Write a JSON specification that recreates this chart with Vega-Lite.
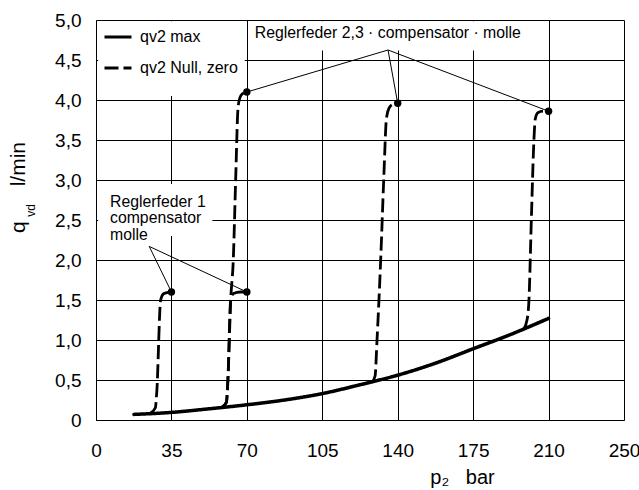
{
  "$schema": "https://vega.github.io/schema/vega-lite/v6.json",
  "width": 528,
  "height": 400,
  "autosize": {"type": "none"},
  "padding": {"left": 96, "top": 20, "right": 15, "bottom": 70},
  "background": "white",
  "config": {"font": "Liberation Sans", "view": {"stroke": null}},
  "datasets": {
    "curves": [
      {"series": "qv2 max", "curve": "max", "p": 17.6, "q": 0.07},
      {"series": "qv2 max", "curve": "max", "p": 35, "q": 0.095},
      {"series": "qv2 max", "curve": "max", "p": 52.5, "q": 0.14},
      {"series": "qv2 max", "curve": "max", "p": 70, "q": 0.19},
      {"series": "qv2 max", "curve": "max", "p": 87.5, "q": 0.25},
      {"series": "qv2 max", "curve": "max", "p": 105, "q": 0.33},
      {"series": "qv2 max", "curve": "max", "p": 122.5, "q": 0.44},
      {"series": "qv2 max", "curve": "max", "p": 140, "q": 0.56},
      {"series": "qv2 max", "curve": "max", "p": 157.5, "q": 0.71},
      {"series": "qv2 max", "curve": "max", "p": 175, "q": 0.89},
      {"series": "qv2 max", "curve": "max", "p": 192.5, "q": 1.07},
      {"series": "qv2 max", "curve": "max", "p": 210, "q": 1.27},
      {"series": "qv2 Null, zero", "curve": "c1", "p": 25.0, "q": 0.08},
      {"series": "qv2 Null, zero", "curve": "c1", "p": 27.5, "q": 0.15},
      {"series": "qv2 Null, zero", "curve": "c1", "p": 28.2, "q": 0.35},
      {"series": "qv2 Null, zero", "curve": "c1", "p": 30.0, "q": 1.5},
      {"series": "qv2 Null, zero", "curve": "c1", "p": 31.5, "q": 1.58},
      {"series": "qv2 Null, zero", "curve": "c1", "p": 35, "q": 1.6},
      {"series": "qv2 Null, zero", "curve": "c2", "p": 58.5, "q": 0.16},
      {"series": "qv2 Null, zero", "curve": "c2", "p": 60.5, "q": 0.22},
      {"series": "qv2 Null, zero", "curve": "c2", "p": 61.2, "q": 0.5},
      {"series": "qv2 Null, zero", "curve": "c2", "p": 62.5, "q": 1.5},
      {"series": "qv2 Null, zero", "curve": "c2", "p": 63.8, "q": 1.58},
      {"series": "qv2 Null, zero", "curve": "c2", "p": 67, "q": 1.6},
      {"series": "qv2 Null, zero", "curve": "c2", "p": 70, "q": 1.6},
      {"series": "qv2 Null, zero", "curve": "c3", "p": 58.5, "q": 0.16},
      {"series": "qv2 Null, zero", "curve": "c3", "p": 60.5, "q": 0.22},
      {"series": "qv2 Null, zero", "curve": "c3", "p": 61.2, "q": 0.5},
      {"series": "qv2 Null, zero", "curve": "c3", "p": 62.5, "q": 1.5},
      {"series": "qv2 Null, zero", "curve": "c3", "p": 63.7, "q": 2.0},
      {"series": "qv2 Null, zero", "curve": "c3", "p": 64.8, "q": 3.0},
      {"series": "qv2 Null, zero", "curve": "c3", "p": 65.9, "q": 3.9},
      {"series": "qv2 Null, zero", "curve": "c3", "p": 66.8, "q": 4.03},
      {"series": "qv2 Null, zero", "curve": "c3", "p": 68, "q": 4.08},
      {"series": "qv2 Null, zero", "curve": "c3", "p": 70, "q": 4.1},
      {"series": "qv2 Null, zero", "curve": "c4", "p": 128, "q": 0.47},
      {"series": "qv2 Null, zero", "curve": "c4", "p": 129.5, "q": 0.55},
      {"series": "qv2 Null, zero", "curve": "c4", "p": 130.4, "q": 1.0},
      {"series": "qv2 Null, zero", "curve": "c4", "p": 132.1, "q": 2.0},
      {"series": "qv2 Null, zero", "curve": "c4", "p": 133.5, "q": 3.0},
      {"series": "qv2 Null, zero", "curve": "c4", "p": 134.8, "q": 3.78},
      {"series": "qv2 Null, zero", "curve": "c4", "p": 136, "q": 3.9},
      {"series": "qv2 Null, zero", "curve": "c4", "p": 138, "q": 3.95},
      {"series": "qv2 Null, zero", "curve": "c4", "p": 140, "q": 3.96},
      {"series": "qv2 Null, zero", "curve": "c5", "p": 198.5, "q": 1.14},
      {"series": "qv2 Null, zero", "curve": "c5", "p": 200, "q": 1.25},
      {"series": "qv2 Null, zero", "curve": "c5", "p": 200.9, "q": 1.5},
      {"series": "qv2 Null, zero", "curve": "c5", "p": 202, "q": 2.5},
      {"series": "qv2 Null, zero", "curve": "c5", "p": 203.2, "q": 3.5},
      {"series": "qv2 Null, zero", "curve": "c5", "p": 203.8, "q": 3.76},
      {"series": "qv2 Null, zero", "curve": "c5", "p": 205, "q": 3.84},
      {"series": "qv2 Null, zero", "curve": "c5", "p": 207.5, "q": 3.86},
      {"series": "qv2 Null, zero", "curve": "c5", "p": 210, "q": 3.86}
    ],
    "dots": [
      {"p": 35, "q": 1.6},
      {"p": 70, "q": 1.6},
      {"p": 70, "q": 4.1},
      {"p": 140, "q": 3.96},
      {"p": 210, "q": 3.86}
    ],
    "leaders": [
      {"p": 24.7, "q": 2.17, "p2": 35, "q2": 1.6},
      {"p": 24.7, "q": 2.17, "p2": 70, "q2": 1.6},
      {"p": 135.5, "q": 4.625, "p2": 70, "q2": 4.1},
      {"p": 135.5, "q": 4.625, "p2": 140, "q2": 3.96},
      {"p": 135.5, "q": 4.625, "p2": 210, "q2": 3.86}
    ],
    "boxes": [
      {"p": 1, "p2": 69, "q": 4.05, "q2": 4.985},
      {"p": 71, "p2": 209, "q": 4.62, "q2": 4.985},
      {"p": 1, "p2": 54, "q": 2.3, "q2": 2.95}
    ],
    "labels": [
      {"p": 73.7, "q": 4.84, "label": "Reglerfeder 2,3 · compensator · molle"},
      {"p": 6.5, "q": 2.73, "label": "Reglerfeder 1"},
      {"p": 6.5, "q": 2.52, "label": "compensator"},
      {"p": 6.5, "q": 2.31, "label": "molle"}
    ]
  },
  "layer": [
    {
      "data": {"name": "boxes"},
      "mark": {"type": "rect", "fill": "white", "stroke": null},
      "encoding": {
        "x": {
          "field": "p", "type": "quantitative",
          "scale": {"domain": [0, 245], "nice": false, "zero": false},
          "axis": {
            "title": "p₂\u00a0\u00a0\u00a0bar",
            "titleFontSize": 20, "titleFontWeight": "normal", "titleColor": "black",
            "titleX": 366, "titleY": 63, "titleAlign": "center", "titleBaseline": "alphabetic",
            "values": [0, 35, 70, 105, 140, 175, 210, 245],
            "labelExpr": "datum.value == 245 ? '250' : datum.label",
            "labelFontSize": 19, "labelColor": "black", "labelPadding": 21,
            "labelFlush": false, "labelOverlap": false,
            "ticks": false, "tickSize": 0,
            "domainColor": "black", "domainWidth": 1,
            "grid": true, "gridColor": "black", "gridOpacity": 1, "gridWidth": 1
          }
        },
        "x2": {"field": "p2"},
        "y": {
          "field": "q", "type": "quantitative",
          "scale": {"domain": [0, 5], "nice": false, "zero": false},
          "axis": {
            "title": "q\u00a0\u00a0\u00a0\u00a0\u00a0\u00a0l/min",
            "titleFontSize": 21, "titleFontWeight": "normal", "titleColor": "black",
            "titleX": -72, "titleY": 167, "titleAngle": -90, "titleAlign": "center", "titleBaseline": "alphabetic",
            "values": [0, 0.5, 1, 1.5, 2, 2.5, 3, 3.5, 4, 4.5, 5],
            "labelExpr": "datum.value == 0 ? '0' : replace(format(datum.value, '.1f'), '.', ',')",
            "labelFontSize": 19, "labelColor": "black", "labelPadding": 15,
            "labelFlush": false, "labelOverlap": false,
            "ticks": false, "tickSize": 0,
            "domainColor": "black", "domainWidth": 1,
            "grid": true, "gridColor": "black", "gridOpacity": 1, "gridWidth": 1
          }
        },
        "y2": {"field": "q2"}
      }
    },
    {
      "data": {"name": "curves"},
      "transform": [{"filter": "datum.series == 'qv2 max'"}],
      "mark": {"type": "line", "color": "black", "strokeWidth": 3.5, "interpolate": "monotone", "strokeCap": "round"},
      "encoding": {
        "x": {"field": "p", "type": "quantitative"},
        "y": {"field": "q", "type": "quantitative", "axis": null},
        "detail": {"field": "curve"},
        "strokeDash": {
          "field": "series", "type": "nominal",
          "scale": {"domain": ["qv2 max", "qv2 Null, zero"], "range": [[1, 0], [14, 5]]},
          "legend": {
            "title": null, "orient": "none", "legendX": 7, "legendY": 2,
            "padding": 0, "symbolType": "stroke", "symbolSize": 729,
            "symbolStrokeWidth": 3, "symbolStrokeColor": "black",
            "labelFontSize": 16, "labelColor": "black", "labelOffset": 7,
            "rowPadding": 8
          }
        }
      }
    },
    {
      "data": {"name": "curves"},
      "transform": [{"filter": "datum.series != 'qv2 max'"}],
      "mark": {"type": "line", "color": "black", "strokeWidth": 2.8, "interpolate": "monotone"},
      "encoding": {
        "x": {"field": "p", "type": "quantitative"},
        "y": {"field": "q", "type": "quantitative", "axis": null},
        "detail": {"field": "curve"},
        "strokeDash": {"field": "series", "type": "nominal"}
      }
    },
    {
      "data": {"name": "leaders"},
      "mark": {"type": "rule", "color": "black", "strokeWidth": 1},
      "encoding": {
        "x": {"field": "p", "type": "quantitative"},
        "y": {"field": "q", "type": "quantitative", "axis": null},
        "x2": {"field": "p2"},
        "y2": {"field": "q2"}
      }
    },
    {
      "data": {"name": "labels"},
      "mark": {"type": "text", "align": "left", "baseline": "middle", "fontSize": 15.8, "color": "black"},
      "encoding": {
        "x": {"field": "p", "type": "quantitative"},
        "y": {"field": "q", "type": "quantitative", "axis": null},
        "text": {"field": "label"}
      }
    },
    {
      "data": {"name": "dots"},
      "mark": {"type": "circle", "color": "black", "opacity": 1, "size": 55},
      "encoding": {
        "x": {"field": "p", "type": "quantitative"},
        "y": {
          "field": "q", "type": "quantitative",
          "axis": {
            "orient": "left", "title": "vd",
            "titleFontSize": 12, "titleFontWeight": "normal", "titleColor": "black",
            "titleX": -62, "titleY": 190, "titleAngle": -90, "titleAlign": "center", "titleBaseline": "alphabetic",
            "labels": false, "ticks": false, "domain": false, "grid": false
          }
        }
      }
    }
  ],
  "resolve": {"axis": {"y": "independent"}}
}
